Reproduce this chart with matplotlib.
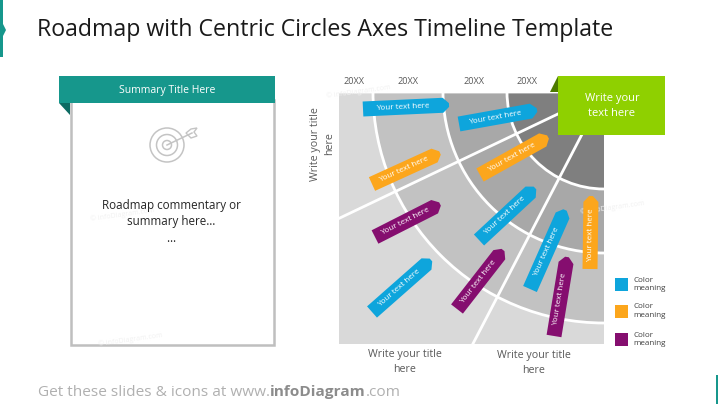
import math

import matplotlib.pyplot as plt
from matplotlib.patches import Circle, Polygon, Rectangle, Wedge

plt.rcParams["font.family"] = ["Open Sans", "DejaVu Sans"]

TITLE = "Roadmap with Centric Circles Axes Timeline Template"
YEARS = ["20XX", "20XX", "20XX", "20XX"]
YEAR_X = [354, 408, 474, 527]

# rings of the quadrant, outside to inside
RING_RADII = [380, 231, 161, 97]
RING_COLORS = ["#d9d9d9", "#c2c2c2", "#a8a8a8", "#7f7f7f"]
RADIAL_ANGLES = [154.5, 117.5]

BLUE = "#0ea5dc"
ORANGE = "#fca61c"
PURPLE = "#850e6f"

ARROW_TAIL_X = [363, 459, 372, 480, 375, 479, 372, 457, 530, 590, 554]
ARROW_TAIL_Y = [109, 124, 184, 175, 237, 240, 312, 309, 289, 269, 336]
ARROW_TIP_X = [449, 537, 440, 548, 440, 535, 431, 503, 565, 591, 567]
ARROW_TIP_Y = [105, 110, 153, 137, 204, 188, 260, 250, 210, 196, 257]
ARROW_COLORS = [BLUE, BLUE, ORANGE, ORANGE, PURPLE, BLUE, BLUE, PURPLE, BLUE, ORANGE, PURPLE]
ARROW_LABEL = "Your text here"

LEGEND_Y = [284.5, 311, 339.5]
LEGEND_COLORS = [BLUE, ORANGE, PURPLE]

WATERMARK_X = [122, 130, 358, 612]
WATERMARK_Y = [215, 340, 92, 208]


def draw_arrow(ax, tail_x, tail_y, tip_x, tip_y, color, width=15, head=6):
    length = math.hypot(tip_x - tail_x, tip_y - tail_y)
    ux, uy = (tip_x - tail_x) / length, (tip_y - tail_y) / length
    nx, ny = -uy * width / 2, ux * width / 2
    sx, sy = tip_x - ux * head, tip_y - uy * head
    points = [
        (tail_x + nx, tail_y + ny),
        (sx + nx, sy + ny),
        (tip_x + nx * 0.25, tip_y + ny * 0.25),
        (tip_x - nx * 0.25, tip_y - ny * 0.25),
        (sx - nx, sy - ny),
        (tail_x - nx, tail_y - ny),
    ]
    ax.add_patch(Polygon(points, closed=True, facecolor=color, edgecolor="none", zorder=5))
    angle = math.degrees(math.atan2(-(tip_y - tail_y), tip_x - tail_x))
    ax.text(
        (tail_x + sx) / 2,
        (tail_y + sy) / 2,
        ARROW_LABEL,
        color="white",
        fontsize=5.8,
        rotation=angle,
        rotation_mode="anchor",
        ha="center",
        va="center",
        zorder=6,
    )


fig = plt.figure(figsize=(7.18, 4.04), dpi=100)
ax = fig.add_axes([0, 0, 1, 1])
ax.set_xlim(0, 718)
ax.set_ylim(404, 0)
ax.axis("off")

# slide furniture
ax.add_patch(Polygon([(0, 0), (3, 0), (3, 24), (6, 30), (3, 36), (3, 57), (0, 57)], facecolor="#16978c"))
ax.add_patch(Rectangle((716, 375), 2, 29, facecolor="#16978c"))
ax.text(37, 30, TITLE, fontsize=16.7, color="#1a1a1a", va="center")
footer = ax.text(38, 392, "Get these slides & icons at www.", fontsize=11.1, color="#b0b0b0", va="center")
footer2 = ax.annotate("infoDiagram", xy=(1, 0.5), xycoords=footer, va="center", fontsize=11.1, color="#8c8c8c", fontweight="bold")
ax.annotate(".com", xy=(1, 0.5), xycoords=footer2, va="center", fontsize=11.1, color="#b0b0b0")

# left card
ax.add_patch(Rectangle((70.5, 100), 203, 245, facecolor="white", edgecolor="#bfbfbf", linewidth=1.8))
ax.add_patch(Polygon([(59, 103), (70, 103), (70, 115)], facecolor="#0d6b63"))
ax.add_patch(Rectangle((59, 76), 216, 27, facecolor="#16978c"))
ax.text(167, 90, "Summary Title Here", color="white", fontsize=7.5, ha="center", va="center")
ax.text(171, 222, "Roadmap commentary or\nsummary here…\n…", color="#262626", fontsize=8.4, ha="center", va="center", linespacing=1.4)

# target icon
for radius in [17, 10.5, 4.5]:
    ax.add_patch(Circle((167, 145), radius, facecolor="none", edgecolor="#c4c4c4", linewidth=1.1))
ax.plot([167, 192], [145, 133], color="#c4c4c4", linewidth=1.1)
ax.add_patch(Polygon([(186, 133), (191, 129), (197, 128), (194, 132), (197, 136), (191, 138)], facecolor="white", edgecolor="#c4c4c4", linewidth=1))

# faint stamps left on the slide
for x, y in zip(WATERMARK_X, WATERMARK_Y):
    ax.text(x, y, "© infoDiagram.com", color="#f1f1f1", fontsize=5, rotation=8, ha="center", va="center", zorder=1.5)

# quadrant
frame = Rectangle((339, 92), 265, 252, transform=ax.transData)
for radius, color in zip(RING_RADII, RING_COLORS):
    wedge = Wedge((604, 92), radius, 0, 180, facecolor=color, edgecolor="white", linewidth=2)
    ax.add_patch(wedge)
    wedge.set_clip_path(frame)
for angle in RADIAL_ANGLES:
    line = ax.plot(
        [604, 604 + 400 * math.cos(math.radians(angle))],
        [92, 92 + 400 * math.sin(math.radians(angle))],
        color="white",
        linewidth=2,
    )[0]
    line.set_clip_path(frame)

for x, year in zip(YEAR_X, YEARS):
    ax.text(x, 81, year, color="#595959", fontsize=6.6, ha="center", va="center")

for i in range(len(ARROW_COLORS)):
    draw_arrow(ax, ARROW_TAIL_X[i], ARROW_TAIL_Y[i], ARROW_TIP_X[i], ARROW_TIP_Y[i], ARROW_COLORS[i])

# green note
ax.add_patch(Polygon([(550, 92), (558, 76), (558, 92)], facecolor="#4d7a00", zorder=6))
ax.add_patch(Rectangle((558, 76), 107, 59, facecolor="#8fd000", zorder=7))
ax.text(612, 106, "Write your\ntext here", color="white", fontsize=8, ha="center", va="center", linespacing=1.4, zorder=8)

# axis titles
ax.text(323, 144, "Write your title\nhere", color="#595959", fontsize=7.7, rotation=90, ha="center", va="center", multialignment="center", linespacing=1.4)
ax.text(405, 362, "Write your title\nhere", color="#595959", fontsize=7.7, ha="center", va="center", linespacing=1.4)
ax.text(534, 363, "Write your title\nhere", color="#595959", fontsize=7.7, ha="center", va="center", linespacing=1.4)

# legend
for y, color in zip(LEGEND_Y, LEGEND_COLORS):
    ax.add_patch(Rectangle((615, y - 6.5), 13, 13, facecolor=color))
    ax.text(633, y, "Color\nmeaning", color="#404040", fontsize=5.8, va="center", linespacing=1.3)

fig.savefig("out.png", dpi=100)
